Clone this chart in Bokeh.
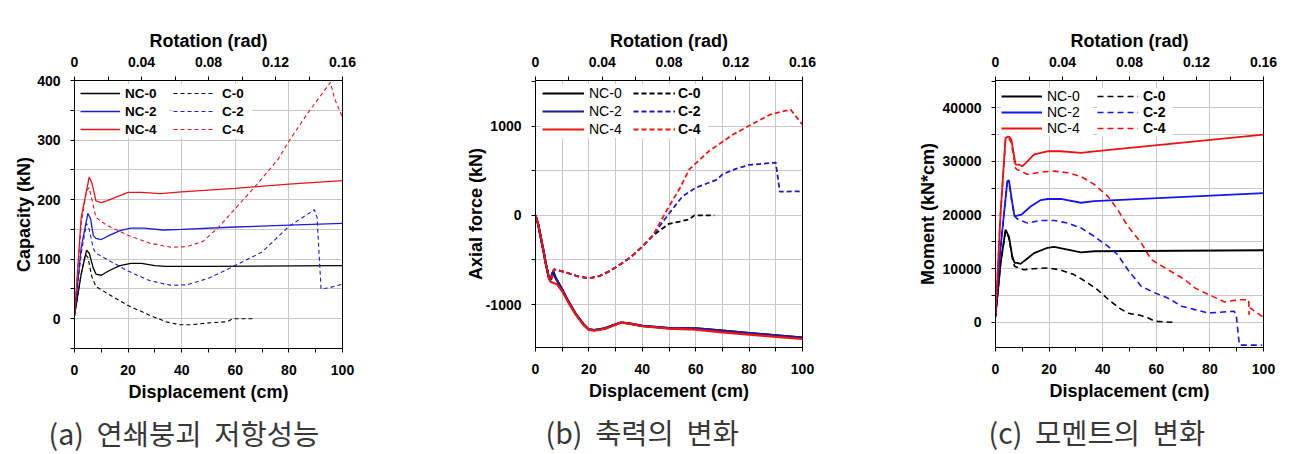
from bokeh.plotting import figure
from bokeh.models import Range1d, LinearAxis, FixedTicker, Legend, LegendItem, Title
from bokeh.layouts import row
from bokeh.embed import file_html
from bokeh.resources import INLINE

# ---------------- data ----------------
rot_ticks = [0, 0.04, 0.08, 0.12, 0.16]
rot_minor = [0.02, 0.06, 0.10, 0.14]
disp_ticks = [0, 20, 40, 60, 80, 100]
disp_minor = [10, 30, 50, 70, 90]

# (a) capacity (kN)
a_nc0_x = [0, 2.5, 4.5, 5.5, 7, 8, 10, 13, 17, 21, 25, 30, 34, 50, 100]
a_nc0_y = [5, 75, 115, 110, 85, 75, 73, 81, 89, 93, 93, 89, 88, 88, 89]
a_c0_x = [0, 2.5, 4, 5, 6.5, 8, 12, 20, 28, 34, 39, 44, 50, 57, 59, 67]
a_c0_y = [5, 75, 108, 103, 70, 54, 43, 22, 6, -5, -10, -10, -7, -5, 0, 0]
a_nc2_x = [0, 2.5, 5, 6, 7, 8, 10, 13, 17, 21, 26, 33, 40, 60, 80, 100]
a_nc2_y = [5, 120, 177, 168, 140, 135, 133, 140, 148, 152, 152, 149, 150, 154, 157, 160]
a_c2_x = [0, 2.5, 4.5, 5.5, 7, 8, 12, 20, 28, 36, 42, 50, 58, 70, 80, 89.5, 90.5, 92, 95, 100]
a_c2_y = [5, 110, 160, 150, 118, 110, 100, 80, 64, 56, 57, 68, 85, 112, 155, 183, 170, 50, 52, 58]
a_nc4_x = [0, 2.5, 5.5, 6.5, 8, 10, 12, 16, 20, 25, 32, 40, 60, 80, 100]
a_nc4_y = [5, 170, 238, 228, 198, 195, 198, 205, 212, 212, 210, 213, 219, 226, 232]
a_c4_x = [0, 2.5, 4.5, 5.5, 7, 8, 12, 20, 28, 36, 42, 48, 54, 60, 68, 76, 80, 87, 95.5, 97, 100]
a_c4_y = [5, 160, 215, 220, 190, 170, 157, 140, 127, 120, 121, 130, 155, 185, 225, 268, 298, 345, 397, 370, 338]

# (b) axial force (kN)
b_nc0_x = [0, 1, 2, 3, 4, 5, 5.8, 6.6, 7.6, 10, 12, 15, 18, 20, 22, 26, 29, 32, 35, 40, 50, 60, 70, 80, 90, 100]
b_nc0_y = [0, -100, -250, -400, -560, -700, -720, -625, -700, -830, -945, -1100, -1220, -1278, -1285, -1265, -1232, -1200, -1210, -1238, -1262, -1265, -1292, -1318, -1343, -1368]
b_nc2_x = [0, 1, 2, 3, 4, 5, 5.6, 6.3, 7.5, 10, 12, 15, 18, 20, 22, 26, 29, 32, 35, 40, 50, 60, 70, 80, 90, 100]
b_nc2_y = [0, -100, -250, -400, -560, -700, -725, -640, -700, -830, -945, -1100, -1220, -1278, -1285, -1265, -1232, -1200, -1210, -1238, -1262, -1266, -1292, -1318, -1343, -1370]
b_nc4_x = [0, 1, 2, 3, 4, 5, 5.5, 7, 8, 10, 12, 15, 18, 20, 22, 26, 29, 32, 35, 40, 50, 60, 70, 80, 90, 100]
b_nc4_y = [0, -100, -250, -400, -560, -700, -740, -760, -770, -850, -960, -1110, -1230, -1283, -1292, -1272, -1236, -1201, -1212, -1242, -1268, -1280, -1310, -1335, -1360, -1385]
b_c_base_x = [0, 1, 2, 3, 4, 5, 6, 6.9, 9, 12, 16, 20, 24, 28, 32, 36, 40, 44]
b_c_base_y = [0, -100, -250, -400, -560, -690, -700, -604, -620, -645, -685, -705, -680, -620, -545, -460, -350, -225]
b_c0_x = b_c_base_x + [47, 50, 54, 57.6, 59.5, 67]
b_c0_y = b_c_base_y + [-160, -95, -70, -45, 0, 0]
b_c2_x = b_c_base_x + [47, 50, 55, 60, 68, 70, 75, 80, 90, 91.5, 100]
b_c2_y = b_c_base_y + [-100, 20, 210, 310, 400, 460, 520, 565, 590, 265, 270]
b_c4_x = b_c_base_x + [47, 50, 54, 57.6, 65, 74, 81, 88, 95.5, 100]
b_c4_y = b_c_base_y + [-60, 100, 300, 515, 720, 905, 1020, 1130, 1185, 1015]

# (c) moment (kN*cm)
c_nc0_x = [0, 1.9, 3.75, 5, 6.25, 7.1, 8.1, 9.4, 10.6, 14.4, 19.4, 21.9, 26.9, 31.9, 36.9, 100]
c_nc0_y = [1100, 11000, 17300, 16000, 12300, 11100, 11100, 10900, 11400, 12900, 13900, 14050, 13560, 13060, 13250, 13440]
c_c0_x = [0, 1.9, 3.75, 5, 6.25, 7.1, 10.6, 14, 19.3, 24, 29.3, 34, 38, 42, 46, 49.5, 54, 57, 59.5, 66]
c_c0_y = [1100, 11000, 17000, 15800, 12000, 10450, 9800, 10000, 10140, 9800, 8900, 7500, 6100, 4300, 2700, 1700, 1300, 800, 200, 0]
c_nc2_x = [0, 1.9, 4.4, 5, 6.25, 7.1, 8.1, 9.75, 13.1, 16.9, 19.4, 24.4, 31.9, 36.9, 100]
c_nc2_y = [1100, 14000, 26300, 26500, 22300, 19800, 19900, 20100, 21600, 22800, 23000, 23000, 22300, 22600, 24100]
c_c2_x = [0, 1.9, 4.4, 5, 6.25, 7.1, 8.1, 11.9, 16.9, 21.9, 26.9, 31.9, 36.9, 41.9, 45.6, 49.4, 54.4, 59.4, 64.4, 69.4, 74.4, 79.4, 89, 89.8, 91, 99.5]
c_c2_y = [1100, 14000, 26000, 26200, 22000, 19800, 19300, 18500, 19000, 19000, 18500, 17600, 16000, 14200, 12600, 9800, 6700, 5500, 4500, 3000, 2360, 1740, 2050, 1500, -4250, -4250]
c_nc4_x = [0, 1.9, 3.75, 5, 5.9, 7.5, 8.75, 10, 11.9, 14.4, 19.4, 24.4, 31.9, 36.9, 100]
c_nc4_y = [1100, 20400, 34400, 34700, 34100, 29400, 29400, 29100, 30000, 31300, 31900, 31900, 31600, 31900, 35000]
c_c4_x = [0, 1.9, 3.75, 5, 5.9, 7.5, 8.1, 11.9, 16.9, 21.9, 26.9, 31.9, 36.9, 41.9, 45.6, 49.4, 54.4, 58.1, 64.4, 70.6, 74.4, 79.4, 85.5, 90.6, 94.5, 94.6, 95, 100]
c_c4_y = [1100, 20400, 34000, 34300, 33500, 28700, 28500, 27600, 28000, 28200, 27900, 27200, 25700, 23500, 21000, 17900, 14800, 11700, 9800, 8000, 6400, 5200, 3800, 4200, 4200, 1400, 2700, 900]

labels_nc = ["NC-0", "NC-2", "NC-4"]
labels_c = ["C-0", "C-2", "C-4"]

SP = "\u00a0\u00a0"
captions = ["(a)" + SP + "연쇄붕괴" + SP + "저항성능",
            "(b)" + SP + "축력의" + SP + "변화",
            "(c)" + SP + "모멘트의" + SP + "변화"]

FONT = "Liberation Sans"


def style_axis(ax, label_standoff, axis_label_standoff):
    ax.axis_line_color = "black"
    ax.axis_line_width = 1
    ax.major_tick_line_color = "black"
    ax.minor_tick_line_color = "black"
    ax.major_tick_in = 0
    ax.major_tick_out = 4
    ax.minor_tick_in = 0
    ax.minor_tick_out = 4
    ax.major_label_text_font = FONT
    ax.major_label_text_font_style = "bold"
    ax.major_label_text_font_size = "14px"
    ax.major_label_text_color = "black"
    ax.major_label_standoff = label_standoff
    ax.axis_label_text_font = FONT
    ax.axis_label_text_font_style = "bold"
    ax.axis_label_text_font_size = "18px"
    ax.axis_label_text_color = "black"
    ax.axis_label_standoff = axis_label_standoff


def make_panel(cfg):
    p = figure(frame_width=cfg["fw"], frame_height=cfg["fh"],
               x_range=Range1d(0, 100), y_range=Range1d(*cfg["yr"]),
               output_backend="svg", toolbar_location=None,
               min_border_left=cfg["bl"], min_border_right=cfg["br"],
               min_border_top=cfg["bt"], min_border_bottom=cfg["bb"])
    p.background_fill_color = "white"
    p.border_fill_color = "white"
    p.outline_line_color = "black"
    p.outline_line_width = 1
    p.outline_line_alpha = 1

    # bottom axis
    xa = p.below[0]
    xa.ticker = FixedTicker(ticks=disp_ticks, minor_ticks=disp_minor)
    xa.axis_label = "Displacement (cm)"
    style_axis(xa, 12, 4)
    # left axis
    ya = p.left[0]
    ya.ticker = FixedTicker(ticks=cfg["yticks"], minor_ticks=cfg["yminor"])
    ya.axis_label = cfg["ylabel"]
    style_axis(ya, 10, cfg["ylab_standoff"])
    ya.major_label_overrides = {t: str(t) for t in cfg["yticks"] if t < 0}
    # top axis
    p.extra_x_ranges = {"rot": Range1d(0, 0.16)}
    ta = LinearAxis(x_range_name="rot",
                    ticker=FixedTicker(ticks=rot_ticks, minor_ticks=rot_minor),
                    axis_label="Rotation (rad)")
    style_axis(ta, 10, 3)
    ta.major_label_overrides = {0: "0"}
    p.add_layout(ta, "above")

    p.xgrid.ticker = FixedTicker(ticks=cfg["xgrid"])
    p.ygrid.ticker = FixedTicker(ticks=cfg["ygrid"])
    p.xgrid.grid_line_color = "#c8c8c8"
    p.ygrid.grid_line_color = "#c8c8c8"
    p.xgrid.grid_line_width = 1
    p.ygrid.grid_line_width = 1

    nc_r = []
    c_r = []
    for (xs, ys), col in zip(cfg["nc"], cfg["colors"]):
        nc_r.append(p.line(xs, ys, line_color=col, line_width=cfg["lw_s"]))
    for (xs, ys), col in zip(cfg["c"], cfg["colors_c"]):
        c_r.append(p.line(xs, ys, line_color=col, line_width=cfg["lw_d"],
                          line_dash=cfg["dash"]))

    lg = cfg["legend"]
    for rs, labs, style, pos, lw, stand in [
            (nc_r, labels_nc, lg["nc_style"], lg["pos1"], lg["lw1"], lg["stand1"]),
            (c_r, labels_c, lg["c_style"], lg["pos2"], lg["lw2"], lg["stand2"])]:
        leg = Legend(items=[LegendItem(label=l, renderers=[r]) for l, r in zip(labs, rs)],
                     location=pos, orientation="vertical",
                     background_fill_color="white", background_fill_alpha=1,
                     border_line_color=None,
                     label_text_font=FONT, label_text_font_style=style,
                     label_text_font_size=lg["fs"], label_text_color="black",
                     glyph_width=lg["gw"], glyph_height=lg["rh"],
                     label_height=lg["rh"], label_width=lw,
                     spacing=0, padding=lg["pad"], margin=0,
                     label_standoff=stand)
        p.add_layout(leg)

    cap = Title(text=cfg["caption"], align="left", offset=cfg["cap_x"],
                text_font="Noto Sans CJK KR", text_font_size="28.5px",
                text_font_style="normal", text_color="#383838",
                standoff=cfg["cap_standoff"])
    p.add_layout(cap, "below")
    return p


pa = make_panel(dict(
    fw=268, fh=268, yr=(-50, 400), bl=74, br=96, bt=78, bb=98,
    yticks=[0, 100, 200, 300, 400], yminor=[-50, 50, 150, 250, 350],
    ylabel="Capacity (kN)", ylab_standoff=0,
    xgrid=[20, 40, 60, 80], ygrid=[0, 50, 100, 150, 200, 250, 300, 350],
    nc=[(a_nc0_x, a_nc0_y), (a_nc2_x, a_nc2_y), (a_nc4_x, a_nc4_y)],
    c=[(a_c0_x, a_c0_y), (a_c2_x, a_c2_y), (a_c4_x, a_c4_y)],
    colors=["#000000", "#1c1cdc", "#e8141c"], colors_c=["#000000", "#1c1cdc", "#e8141c"],
    lw_s=1.3, lw_d=1.1, dash="4 3",
    legend=dict(nc_style="bold", c_style="bold", fs="13.5px", gw=40, rh=18, pad=2,
                pos1=(6, 210), pos2=(99, 210), lw1=44, lw2=30, stand1=5, stand2=9),
    cap_x=-26, cap_standoff=11, caption=captions[0]))

pb = make_panel(dict(
    fw=267, fh=267, yr=(-1480, 1510), bl=97, br=90, bt=80, bb=97,
    yticks=[-1000, 0, 1000], yminor=[-500, 500, 1500],
    ylabel="Axial force (kN)", ylab_standoff=-3,
    xgrid=[10, 20, 30, 40, 50, 60, 70, 80, 90], ygrid=[-1000, -500, 0, 500, 1000],
    nc=[(b_nc0_x, b_nc0_y), (b_nc2_x, b_nc2_y), (b_nc4_x, b_nc4_y)],
    c=[(b_c0_x, b_c0_y), (b_c2_x, b_c2_y), (b_c4_x, b_c4_y)],
    colors=["#000000", "#1c1c9a", "#f01414"], colors_c=["#000000", "#1c1cc0", "#f01414"],
    lw_s=2.2, lw_d=1.8, dash="5 3",
    legend=dict(nc_style="normal", c_style="bold", fs="14px", gw=42, rh=18, pad=0,
                pos1=(7, 209), pos2=(98, 209), lw1=44, lw2=30, stand1=5, stand2=3),
    cap_x=10, cap_standoff=11, caption=captions[1]))

pc = make_panel(dict(
    fw=268, fh=267, yr=(-4700, 45100), bl=103, br=18, bt=80, bb=97,
    yticks=[0, 10000, 20000, 30000, 40000], yminor=[5000, 15000, 25000, 35000, 45000],
    ylabel="Moment (kN*cm)", ylab_standoff=2,
    xgrid=[20, 40, 60, 80], ygrid=[0, 5000, 10000, 15000, 20000, 25000, 30000, 35000, 40000],
    nc=[(c_nc0_x, c_nc0_y), (c_nc2_x, c_nc2_y), (c_nc4_x, c_nc4_y)],
    c=[(c_c0_x, c_c0_y), (c_c2_x, c_c2_y), (c_c4_x, c_c4_y)],
    colors=["#000000", "#1515ee", "#ee1111"], colors_c=["#000000", "#1515ee", "#ee1111"],
    lw_s=1.8, lw_d=1.6, dash="6 4",
    legend=dict(nc_style="normal", c_style="bold", fs="14px", gw=41, rh=16, pad=2,
                pos1=(6, 211), pos2=(102, 211), lw1=46, lw2=30, stand1=5, stand2=5),
    cap_x=-7, cap_standoff=11, caption=captions[2]))

layout = row(pa, pb, pc, spacing=0)
open("out.html", "w").write(file_html(layout, INLINE))
